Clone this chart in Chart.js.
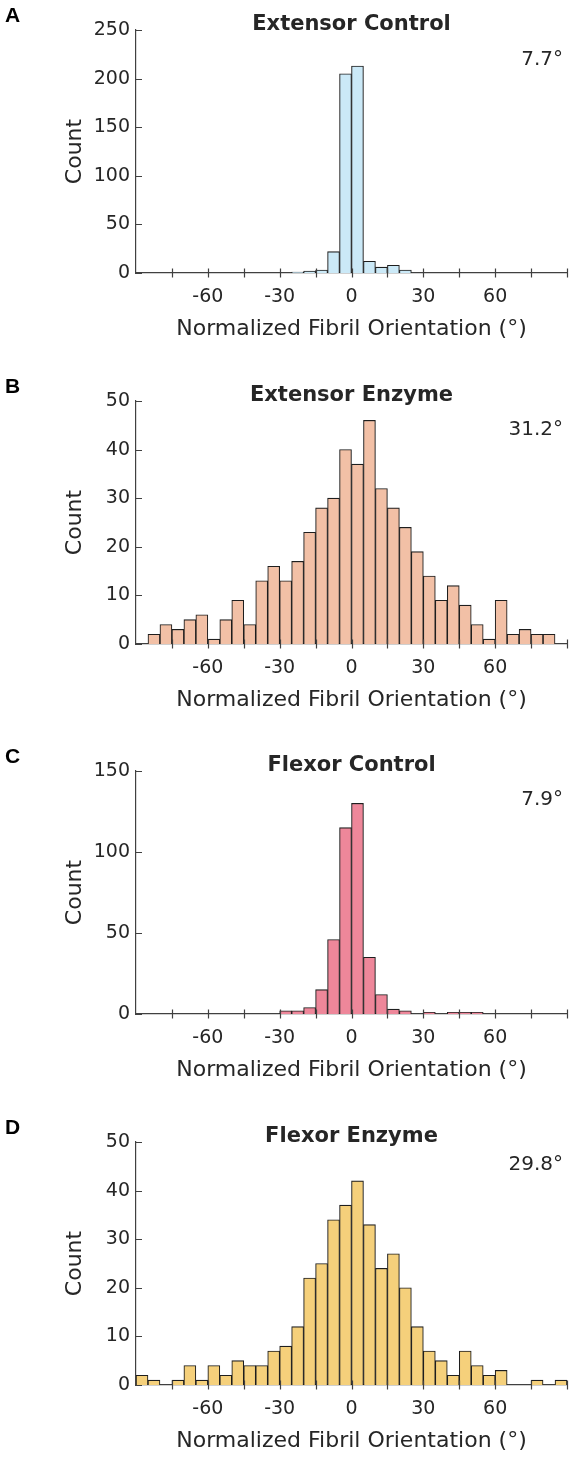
<!DOCTYPE html>
<html>
<head>
<meta charset="utf-8">
<script src="https://cdn.jsdelivr.net/npm/chart.js@4.4.0/dist/chart.umd.min.js"></script>
<style>
  body { margin: 0; background: #fff; }
  #wrap { position: relative; width: 572px; height: 1457px; }
  #wrap canvas { position: absolute; left: 0; }
</style>
</head>
<body>
<div id="wrap">
  <canvas id="panelA" width="572" height="371" style="top:0px"></canvas>
  <canvas id="panelB" width="572" height="370" style="top:371px"></canvas>
  <canvas id="panelC" width="572" height="371" style="top:741px"></canvas>
  <canvas id="panelD" width="572" height="345" style="top:1112px"></canvas>
</div>
<script>
// 5° bins from -90 to 90
const binCenters = [-87.5, -82.5, -77.5, -72.5, -67.5, -62.5, -57.5, -52.5, -47.5, -42.5, -37.5, -32.5,
  -27.5, -22.5, -17.5, -12.5, -7.5, -2.5, 2.5, 7.5, 12.5, 17.5, 22.5, 27.5,
  32.5, 37.5, 42.5, 47.5, 52.5, 57.5, 62.5, 67.5, 72.5, 77.5, 82.5, 87.5];
const xLabelValues = [-60, -30, 0, 30, 60];

const extensorControl = [0, 0, 0, 0, 0, 0, 0, 0, 0, 0, 0, 0, 0, 1, 2, 3, 22, 205,
  213, 12, 6, 8, 3, 0, 0, 0, 0, 0, 0, 0, 0, 0, 0, 0, 0, 0];
const extensorEnzyme = [0, 2, 4, 3, 5, 6, 1, 5, 9, 4, 13, 16, 13, 17, 23, 28, 30, 40,
  37, 46, 32, 28, 24, 19, 14, 9, 12, 8, 4, 1, 9, 2, 3, 2, 2, 0];
const flexorControl = [0, 0, 0, 0, 0, 0, 0, 0, 0, 0, 0, 0, 2, 2, 4, 15, 46, 115,
  130, 35, 12, 3, 2, 0, 1, 0, 1, 1, 1, 0, 0, 0, 0, 0, 0, 0];
const flexorEnzyme = [2, 1, 0, 1, 4, 1, 4, 2, 5, 4, 4, 7, 8, 12, 22, 25, 34, 37,
  42, 33, 24, 27, 20, 12, 7, 5, 2, 7, 4, 2, 3, 0, 0, 1, 0, 1];

const panelLetters = ['A', 'B', 'C', 'D'];
const panelTitles = ['Extensor Control', 'Extensor Enzyme', 'Flexor Control', 'Flexor Enzyme'];
const spreadNotes = ['7.7°', '31.2°', '7.9°', '29.8°'];
const yMaxes = [250, 50, 150, 50];
const ySteps = [50, 10, 50, 10];

const textColor = '#262626';
const axisColor = '#404040';
const fontFam = '"DejaVu Sans", sans-serif';

// letter, title, spread note and inward tick marks
const decorations = {
  id: 'decorations',
  afterDraw(chart, args, opts) {
    const { ctx, chartArea: a, scales: { x, y } } = chart;
    ctx.save();
    ctx.strokeStyle = axisColor;
    ctx.lineWidth = 1.2;
    ctx.beginPath();
    x.ticks.forEach(t => {
      if (t.value <= x.min) return;
      const px = Math.round(x.getPixelForValue(t.value)) + 0.5;
      ctx.moveTo(px, a.bottom - 4.5);
      ctx.lineTo(px, a.bottom + 4.5);
    });
    y.ticks.forEach(t => {
      const py = Math.round(y.getPixelForValue(t.value)) + 0.5;
      ctx.moveTo(a.left, py);
      ctx.lineTo(a.left + 6, py);
    });
    ctx.stroke();

    ctx.fillStyle = textColor;
    ctx.textBaseline = 'alphabetic';
    ctx.font = 'bold 21px ' + fontFam;
    ctx.textAlign = 'center';
    ctx.fillText(opts.title, (a.left + a.right) / 2, a.top);
    ctx.fillStyle = '#000';
    ctx.font = 'bold 21px "Liberation Sans", sans-serif';
    ctx.textAlign = 'left';
    ctx.fillText(opts.letter, 5, a.top - 8);
    ctx.fillStyle = textColor;
    ctx.font = '20px ' + fontFam;
    ctx.textAlign = 'right';
    ctx.fillText(opts.note, 563, a.top + opts.noteDy);
    ctx.restore();
  }
};

const panelIds = ['panelA', 'panelB', 'panelC', 'panelD'];
const panelCounts = [extensorControl, extensorEnzyme, flexorControl, flexorEnzyme];
const barColors = ['#cbe9f7', '#f2c0a6', '#ee879a', '#f5d07b'];
const noteOffsets = [35, 34, 34, 28];

panelIds.forEach((id, i) => {
  const canvas = document.getElementById(id);
  new Chart(canvas, {
    type: 'bar',
    data: {
      datasets: [{
        data: binCenters.map((c, k) => ({ x: c, y: panelCounts[i][k] })),
        backgroundColor: barColors[i],
        borderColor: '#1e1e1e',
        borderWidth: 1.1,
        barPercentage: 1,
        categoryPercentage: 1
      }]
    },
    options: {
      responsive: false,
      animation: false,
      devicePixelRatio: 1,
      layout: { padding: { top: 30, right: 5, left: 0, bottom: canvas.height - 343 } },
      plugins: {
        legend: { display: false },
        tooltip: { enabled: false },
        decorations: {
          letter: panelLetters[i],
          title: panelTitles[i],
          note: spreadNotes[i],
          noteDy: noteOffsets[i]
        }
      },
      scales: {
        x: {
          type: 'linear',
          min: -90,
          max: 90,
          offset: false,
          grid: { display: false, drawTicks: false },
          border: { display: true, color: axisColor, width: 1.2 },
          ticks: {
            stepSize: 15,
            autoSkip: false,
            maxRotation: 0,
            padding: 13,
            color: textColor,
            font: { family: fontFam, size: 19 },
            callback: v => xLabelValues.includes(v) ? String(v) : ''
          },
          title: {
            display: true,
            text: 'Normalized Fibril Orientation (°)',
            color: textColor,
            font: { family: fontFam, size: 22 },
            padding: { top: 0, bottom: 1 }
          },
          afterFit: s => {
            s.height = 70;
            s.paddingLeft = 0;
            s.paddingRight = 0;
          }
        },
        y: {
          min: 0,
          max: yMaxes[i],
          grid: { display: false, drawTicks: false },
          border: { display: true, color: axisColor, width: 1.2 },
          ticks: {
            stepSize: ySteps[i],
            padding: 6,
            color: textColor,
            font: { family: fontFam, size: 19 }
          },
          title: {
            display: true,
            text: 'Count',
            color: textColor,
            font: { family: fontFam, size: 22 },
            padding: { top: 62, bottom: 0 }
          },
          afterFit: s => { s.width = 136; }
        }
      }
    },
    plugins: [decorations]
  });
});
</script>
</body>
</html>
